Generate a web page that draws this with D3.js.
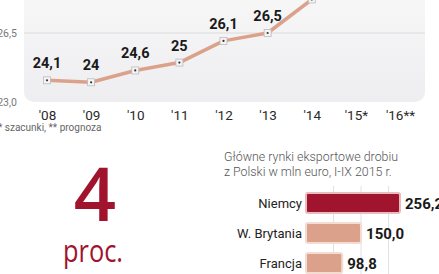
<!DOCTYPE html>
<html>
<head>
<meta charset="utf-8">
<script src="https://cdn.jsdelivr.net/npm/d3@7"></script>
<style>
	body { margin: 0; background: #fff; }
	svg { display: block; }
	text { font-family: Roboto, "DejaVu Sans Condensed", sans-serif; }
</style>
</head>
<body>
<svg id="chart" width="439" height="274"></svg>
<script>
var years = ["'08", "'09", "'10", "'11", "'12", "'13", "'14", "'15*", "'16**"]
var values = [24.1, 24, 24.6, 25, 26.1, 26.5, 28.2]
var valueLabels = ["24,1", "24", "24,6", "25", "26,1", "26,5", "28,2"]
var yTicks = [23, 26.5]

var markets = ["Niemcy", "W. Brytania", "Francja"]
var exports = [256.2, 150.0, 98.8]
var barGrid = [75, 150, 225]

var red = "#a0142e"
var salmon = "#dca18b"
var fmt = d => d3.format(".1f")(d).replace(".", ",")

var svg = d3.select("#chart")

// line chart
var x = d3.scalePoint().domain(years).range([47, 400])
var y = d3.scaleLinear().domain([23, 26.5]).range([102, 33])

var grad = svg.append("defs").append("linearGradient")
	.attr("id", "panelGrad")
	.attr("x1", 0).attr("x2", 0).attr("y1", 0).attr("y2", 1)
grad.append("stop").attr("offset", 0).attr("stop-color", "#f8f8f9")
grad.append("stop").attr("offset", 1).attr("stop-color", "#eeeef0")

svg.append("rect")
	.attr("x", 24).attr("y", -20)
	.attr("width", 401).attr("height", 122)
	.attr("rx", 10)
	.attr("fill", "url(#panelGrad)")

svg.append("line")
	.attr("x1", 24).attr("x2", 425)
	.attr("y1", y(26.5)).attr("y2", y(26.5))
	.attr("stroke", "#dcdcde")
	.attr("stroke-width", 1.2)

svg.selectAll(".ytick")
	.data(yTicks)
	.join("text")
	.attr("class", "ytick")
	.attr("x", 17)
	.attr("y", d => y(d) + 4)
	.attr("text-anchor", "end")
	.attr("font-size", 10.5)
	.attr("fill", "#777")
	.text(fmt)

var xAxis = svg.append("g")
	.attr("transform", "translate(0,120)")
	.call(d3.axisBottom(x).tickSize(0).tickPadding(0))
xAxis.select(".domain").remove()
xAxis.selectAll("text")
	.attr("dy", 0)
	.attr("font-size", 13.5)
	.attr("fill", "#2a2a2a")
	.style("font-family", "Roboto, sans-serif")

svg.append("text")
	.attr("x", -2).attr("y", 131)
	.attr("font-size", 10)
	.attr("fill", "#666")
	.text("* szacunki, ** prognoza")

svg.append("path")
	.datum(values)
	.attr("fill", "none")
	.attr("stroke", salmon)
	.attr("stroke-width", 3.5)
	.attr("stroke-linejoin", "round")
	.attr("d", d3.line().x((d, i) => x(years[i])).y(d => y(d)))

var pts = svg.selectAll(".pt")
	.data(values)
	.join("g")
	.attr("class", "pt")
	.attr("transform", (d, i) => "translate(" + x(years[i]) + "," + y(d) + ")")
pts.append("rect")
	.attr("x", -3.5).attr("y", -3.5)
	.attr("width", 7).attr("height", 7)
	.attr("fill", "#f4f4f4")
	.attr("stroke", "#bbb")
	.attr("stroke-width", 0.8)
pts.append("circle")
	.attr("r", 1.1)
	.attr("fill", "#333")

svg.selectAll(".vlab")
	.data(values)
	.join("text")
	.attr("class", "vlab")
	.attr("x", (d, i) => x(years[i]))
	.attr("y", d => y(d) - 12)
	.attr("text-anchor", "middle")
	.attr("font-size", 14.5)
	.attr("font-weight", "bold")
	.attr("fill", "#1a1a1a")
	.text((d, i) => valueLabels[i])

// big number
svg.append("text")
	.attr("x", 95).attr("y", 221)
	.attr("text-anchor", "middle")
	.attr("font-size", 74)
	.attr("font-weight", 600)
	.attr("fill", red)
	.style("font-family", "'Open Sans', sans-serif")
	.text("4")
svg.append("text")
	.attr("transform", "translate(93,262) scale(0.82,1)")
	.attr("text-anchor", "middle")
	.attr("font-size", 31)
	.attr("fill", red)
	.style("font-family", "'Open Sans', sans-serif")
	.text("proc.")

// bar chart
svg.append("text")
	.attr("font-size", 12.4)
	.attr("fill", "#555")
	.attr("font-weight", 300)
	.selectAll("tspan")
	.data(["Główne rynki eksportowe drobiu", "z Polski w mln euro, I-IX 2015 r."])
	.join("tspan")
	.attr("x", 224)
	.attr("y", (d, i) => 161 + i * 15)
	.text(d => d)

var bx = d3.scaleLinear().domain([0, 256.2]).range([306, 400])
var by = d3.scaleBand().domain(markets).range([188, 278]).paddingInner(1 / 3).paddingOuter(1 / 6)

svg.selectAll(".bgrid")
	.data(barGrid)
	.join("line")
	.attr("class", "bgrid")
	.attr("x1", d => bx(d)).attr("x2", d => bx(d))
	.attr("y1", 186).attr("y2", 274)
	.attr("stroke", "#e2e2e2")

svg.selectAll(".bar")
	.data(exports)
	.join("rect")
	.attr("class", "bar")
	.attr("x", bx(0))
	.attr("y", (d, i) => by(markets[i]))
	.attr("width", d => bx(d) - bx(0))
	.attr("height", by.bandwidth())
	.attr("rx", 2)
	.attr("fill", (d, i) => i == 0 ? red : salmon)
	.attr("stroke", (d, i) => i == 0 ? "#e6bcc0" : "#f3ddd3")
	.attr("stroke-width", 2)

svg.selectAll(".blab")
	.data(markets)
	.join("text")
	.attr("class", "blab")
	.attr("x", 302)
	.attr("y", d => by(d) + by.bandwidth() / 2 + 4.5)
	.attr("text-anchor", "end")
	.attr("font-size", 13)
	.attr("fill", "#222")
	.text(d => d)

svg.selectAll(".bval")
	.data(exports)
	.join("text")
	.attr("class", "bval")
	.attr("x", d => bx(d) + 5)
	.attr("y", (d, i) => by(markets[i]) + by.bandwidth() / 2 + 5.5)
	.attr("font-size", 15)
	.attr("font-weight", "bold")
	.attr("fill", "#1a1a1a")
	.text(fmt)
</script>
</body>
</html>
